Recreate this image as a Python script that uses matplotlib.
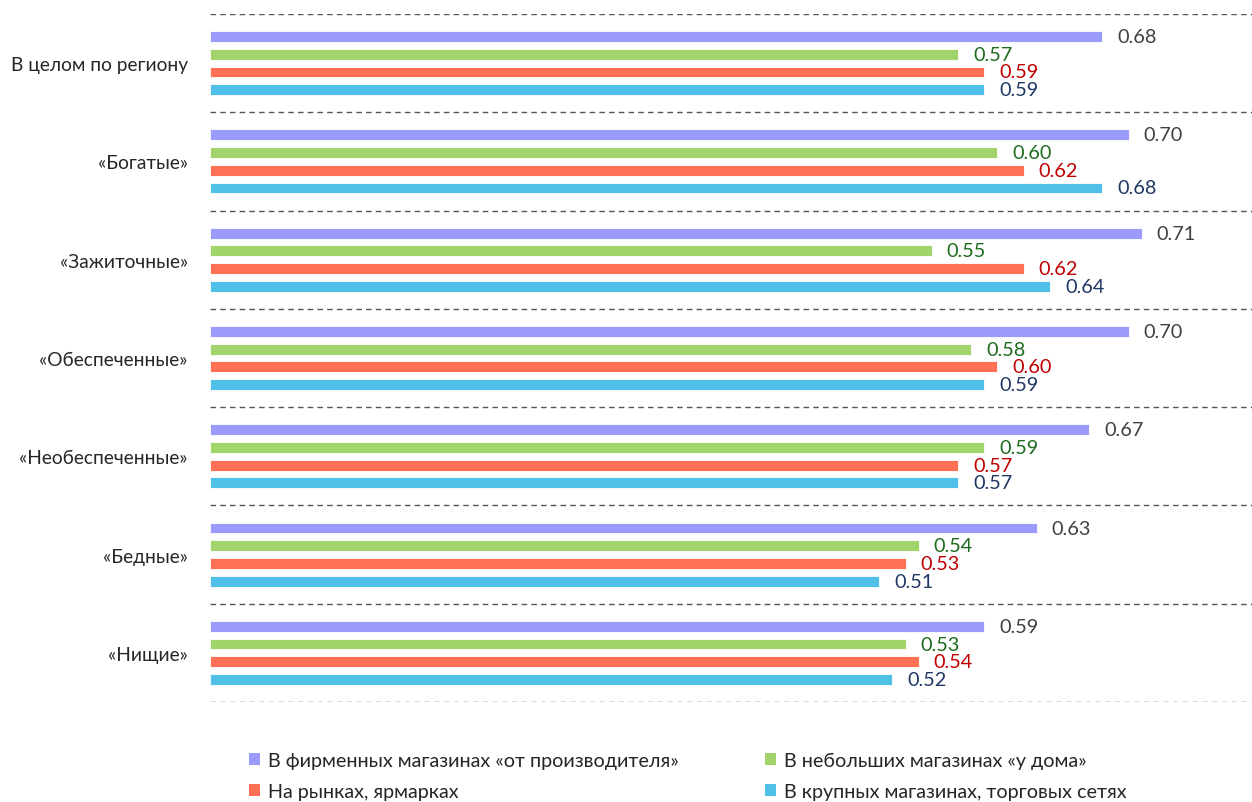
import matplotlib
matplotlib.use("Agg")
import matplotlib.pyplot as plt
from matplotlib.patches import Patch
import numpy as np

plt.rcParams['font.family'] = ['Lato', 'DejaVu Sans']

categories = ["В целом по региону", "«Богатые»", "«Зажиточные»", "«Обеспеченные»",
              "«Необеспеченные»", "«Бедные»", "«Нищие»"]
series_names = ["В фирменных магазинах «от производителя»",
                "В небольших магазинах «у дома»",
                "На рынках, ярмарках",
                "В крупных магазинах, торговых сетях"]
brand_stores = [0.68, 0.70, 0.71, 0.70, 0.67, 0.63, 0.59]
small_shops = [0.57, 0.60, 0.55, 0.58, 0.59, 0.54, 0.53]
markets = [0.59, 0.62, 0.62, 0.60, 0.57, 0.53, 0.54]
chains = [0.59, 0.68, 0.64, 0.59, 0.57, 0.51, 0.52]

bar_colors = ["#9b9bfc", "#a1d56b", "#ff7054", "#4fc1e8"]
label_colors = ["#404040", "#1e6a1e", "#c00000", "#203864"]

series = [brand_stores, small_shops, markets, chains]

fig = plt.figure(figsize=(12.52, 8.03), dpi=100)
ax = fig.add_axes([210 / 1252, 1 - 703 / 803, 1 - 210 / 1252, (703 - 15) / 803])

y = np.arange(len(categories))
offsets = [-0.27, -0.09, 0.09, 0.27]
bar_h = 0.11

for vals, off, bc, lc in zip(series, offsets, bar_colors, label_colors):
    bars = ax.barh(y + off, vals, height=bar_h, color=bc, edgecolor="white", linewidth=0.6)
    for rect, v in zip(bars, vals):
        ax.annotate(f"{v:.2f}", xy=(rect.get_width(), rect.get_y() + rect.get_height() / 2),
                    xytext=(15, 0), textcoords="offset pixels",
                    va="center", ha="left", fontsize=14.3, color=lc)

ax.set_xlim(0, 0.794)
ax.set_ylim(len(categories) - 0.5, -0.5)

# dashed separators between the groups
for b in np.arange(-0.5, len(categories), 1.0):
    ax.axhline(b, color="#555555", linewidth=1.0, linestyle=(0, (4, 3)))

ax.set_yticks(y)
ax.set_yticklabels(categories, fontsize=13.8, color="#262626")
ax.tick_params(axis="y", length=0, pad=16)
ax.set_xticks([])
for s in ax.spines.values():
    s.set_visible(False)

handles = [Patch(facecolor=c, edgecolor="none") for c in bar_colors]
leg_kw = dict(frameon=False, fontsize=14.2, handlelength=0.55, handleheight=0.55,
              handletextpad=0.4, labelspacing=0.72, borderpad=0, borderaxespad=0)
leg1 = fig.legend([handles[0], handles[2]], [series_names[0], series_names[2]],
                  loc="upper left", bbox_to_anchor=(249 / 1252, 1 - 753 / 803), **leg_kw)
leg2 = fig.legend([handles[1], handles[3]], [series_names[1], series_names[3]],
                  loc="upper left", bbox_to_anchor=(765 / 1252, 1 - 753 / 803), **leg_kw)
for lg in (leg1, leg2):
    for t in lg.get_texts():
        t.set_color("#262626")

fig.savefig("out.png", dpi=100)
